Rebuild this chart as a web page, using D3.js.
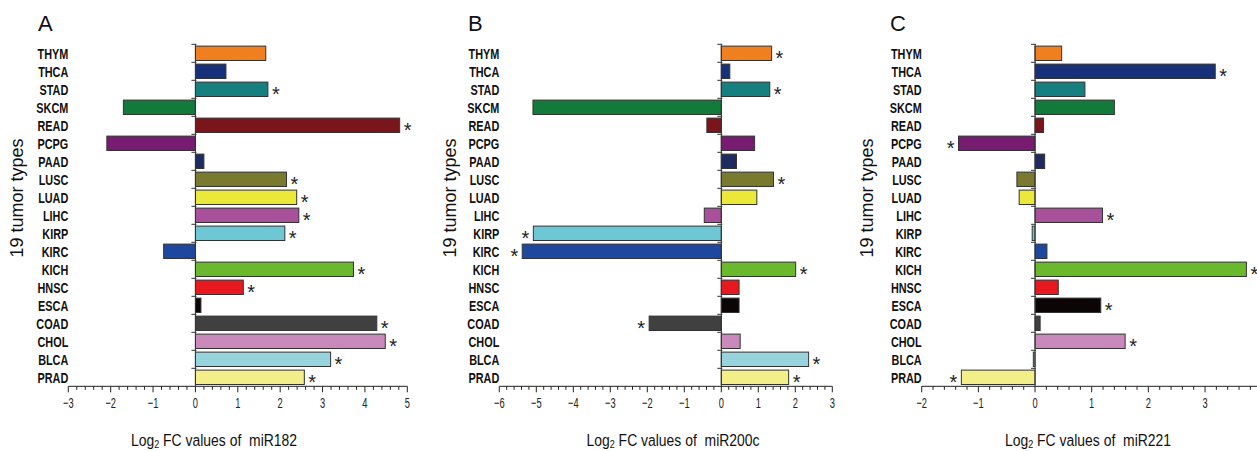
<!DOCTYPE html>
<html>
<head>
<meta charset="utf-8">
<script src="https://cdn.jsdelivr.net/npm/d3@7"></script>
<style>
  html, body { margin: 0; padding: 0; background: #fff; }
  svg { display: block; }
  text { font-family: "Liberation Sans", Arial, sans-serif; }
</style>
</head>
<body>
<svg id="chart" width="1257" height="451"></svg>
<script>
// ---------------- data ----------------
const categories = ["THYM","THCA","STAD","SKCM","READ","PCPG","PAAD","LUSC","LUAD","LIHC","KIRP","KIRC","KICH","HNSC","ESCA","COAD","CHOL","BLCA","PRAD"];
const barColors = ["#f07f1f","#17307a","#167f7f","#127a3a","#7a161b","#781c72","#1d2b5e","#7a7a2e","#ebe83a","#a8519a","#6ec7d5","#1e48a0","#6ab82c","#e8191e","#0b0505","#404040","#c98abb","#98d4de","#f2ee88"];

const miR182  = [1.66, 0.72, 1.71, -1.70, 4.82, -2.09, 0.20, 2.15, 2.39, 2.44, 2.11, -0.75, 3.73, 1.13, 0.13, 4.28, 4.48, 3.19, 2.57];
const sig182  = [0,0,1,0,1,0,0,1,1,1,1,0,1,1,0,1,1,1,1];
const miR200c = [1.36, 0.23, 1.31, -5.09, -0.39, 0.90, 0.41, 1.41, 0.96, -0.46, -5.08, -5.38, 2.01, 0.48, 0.48, -1.95, 0.51, 2.36, 1.82];
const sig200c = [1,0,1,0,0,0,0,1,0,0,1,1,1,0,0,1,0,1,1];
const miR221  = [0.47, 3.18, 0.88, 1.40, 0.15, -1.35, 0.17, -0.32, -0.28, 1.19, -0.05, 0.21, 3.73, 0.41, 1.16, 0.09, 1.59, -0.03, -1.30];
const sig221  = [0,1,0,0,0,1,0,0,0,1,0,0,1,0,1,0,1,0,1];

const panelLetters = ["A","B","C"];
const mirNames = ["miR182","miR200c","miR221"];
const domainsX = [[-3,5],[-6,3],[-2,4]];
const yTitle = "19 tumor types";

// ---------------- layout ----------------
const W = 1257;
const panels = [
  {values: miR182,  sig: sig182,  range: [68.3, 407.3],  letterX: 38,  yTitleX: 23,  xTitleX: 214},
  {values: miR200c, sig: sig200c, range: [499.3, 832.3], letterX: 468, yTitleX: 456, xTitleX: 673},
  {values: miR221,  sig: sig221,  range: [921.7, 1261.7], letterX: 890, yTitleX: 873, xTitleX: 1088}
];
const plotTop = 44.3, plotBottom = 386.3;

const svg = d3.select("#chart");

panels.forEach((p, pi) => {
  const g = svg.append("g");
  const x = d3.scaleLinear().domain(domainsX[pi]).range(p.range);
  const y = d3.scaleBand().domain(categories).range([plotTop, plotBottom]).paddingInner(0.2).paddingOuter(0.1);
  const yb = d3.scaleBand().domain(categories).range([plotTop, plotBottom]);
  const x0 = x(0);

  // panel letter
  g.append("text").attr("x", p.letterX).attr("y", 31)
    .attr("font-size", 22).attr("fill", "#111").text(panelLetters[pi]);

  // bars
  g.selectAll("rect.bar").data(categories).enter().append("rect")
    .attr("class", "bar")
    .attr("x", (d, i) => Math.min(x(p.values[i]), x0))
    .attr("y", d => y(d))
    .attr("width", (d, i) => Math.abs(x(p.values[i]) - x0))
    .attr("height", y.bandwidth())
    .attr("fill", (d, i) => barColors[i])
    .attr("stroke", "#333").attr("stroke-width", 1);

  // vertical zero axis with ticks at band boundaries
  g.append("line").attr("x1", x0).attr("x2", x0).attr("y1", plotTop).attr("y2", plotBottom)
    .attr("stroke", "#333").attr("stroke-width", 1);
  g.selectAll("line.ytick").data(categories).enter().append("line")
    .attr("class", "ytick")
    .attr("x1", x0 - 4).attr("x2", x0 + 1)
    .attr("y1", d => yb(d)).attr("y2", d => yb(d))
    .attr("stroke", "#333").attr("stroke-width", 1);

  // category labels (condensed bold)
  g.selectAll("text.cat").data(categories).enter().append("text")
    .attr("class", "cat")
    .attr("transform", d => `translate(${p.range[0]},${yb(d) + yb.bandwidth() / 2 + 5.3}) scale(0.75,1)`)
    .attr("text-anchor", "end").attr("font-weight", "bold").attr("font-size", 14.5)
    .attr("fill", "#111").text(d => d);

  // asterisks
  g.selectAll("text.star").data(categories.filter((d, i) => p.sig[i])).enter().append("text")
    .attr("class", "star")
    .attr("x", d => { const v = p.values[categories.indexOf(d)]; return v >= 0 ? x(v) + 4 : x(v) - 4; })
    .attr("y", d => yb(d) + yb.bandwidth() / 2 + 11.5)
    .attr("text-anchor", d => p.values[categories.indexOf(d)] >= 0 ? "start" : "end")
    .attr("font-size", 20).attr("fill", "#222").text("*");

  // x axis
  const [d0, d1] = domainsX[pi];
  const axisG = g.append("g").attr("transform", `translate(0,${plotBottom})`);
  axisG.append("line").attr("x1", x(d0)).attr("x2", x(d1)).attr("y1", 0).attr("y2", 0)
    .attr("stroke", "#222").attr("stroke-width", 1);
  const minor = d3.range(Math.round((d1 - d0) * 5) + 1).map(k => d0 + k * 0.2);
  axisG.selectAll("line.minor").data(minor).enter().append("line")
    .attr("x1", d => x(d)).attr("x2", d => x(d)).attr("y1", 0)
    .attr("y2", (d, k) => k % 5 === 0 ? 6 : 3.5)
    .attr("stroke", "#222").attr("stroke-width", 1);
  const majors = x.ticks(d1 - d0).filter(t => Number.isInteger(t) && x(t) < W - 4);
  axisG.selectAll("text.tl").data(majors).enter().append("text")
    .attr("class", "tl")
    .attr("transform", d => `translate(${x(d)},22) scale(0.62,1)`)
    .attr("text-anchor", "middle").attr("font-size", 15).attr("fill", "#222")
    .text(d => d3.format("d")(d));

  // y title
  g.append("text").attr("transform", `translate(${p.yTitleX},198) rotate(-90)`)
    .attr("text-anchor", "middle").attr("font-size", 18).attr("fill", "#111").text(yTitle);

  // x title
  const xt = g.append("text").attr("transform", `translate(${p.xTitleX},446) scale(0.82,1)`)
    .attr("text-anchor", "middle").attr("font-size", 17).attr("fill", "#111")
    .style("white-space", "pre");
  xt.append("tspan").text("Log");
  xt.append("tspan").attr("font-size", 11).attr("dy", 2).text("2");
  xt.append("tspan").attr("dy", -2).text(" FC values of  " + mirNames[pi]);
});
</script>
</body>
</html>
